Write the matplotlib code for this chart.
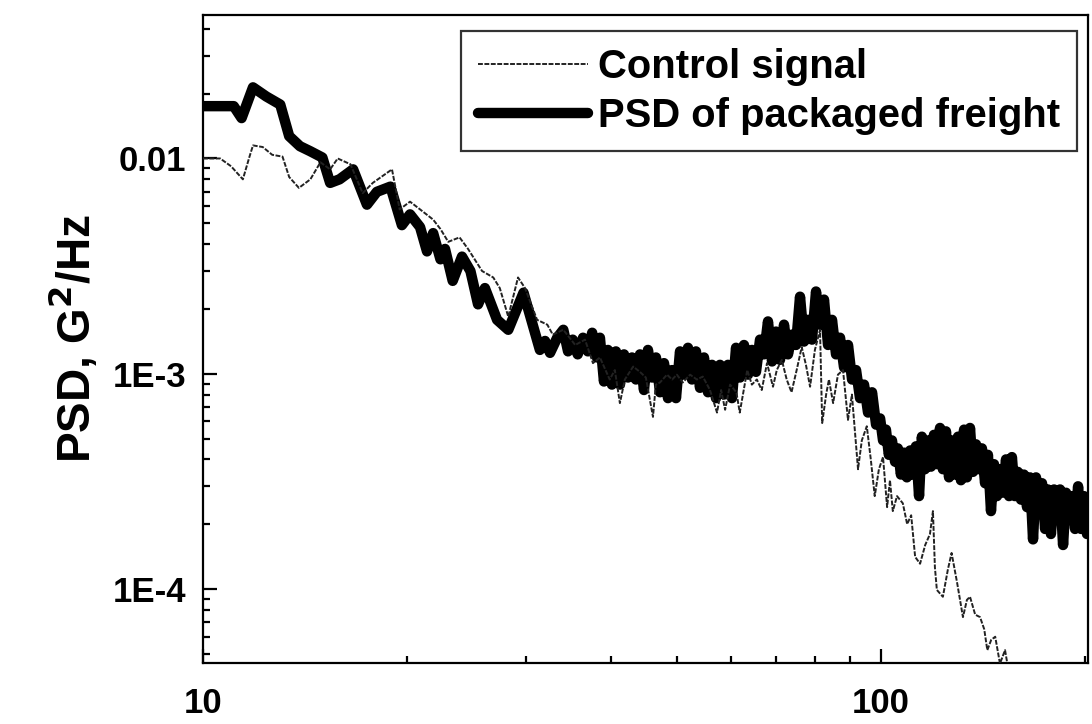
import matplotlib
matplotlib.use("Agg")
import matplotlib.pyplot as plt
from matplotlib.ticker import LogLocator, NullFormatter, FixedLocator

plt.rcParams['font.family'] = ['Liberation Sans', 'DejaVu Sans']
plt.rcParams['font.weight'] = 'bold'

# ---- data ----
freight_freq = [10.0, 11.1, 11.4, 11.85, 12.4, 13.0, 13.4, 13.9, 14.4, 15.0,
                15.4, 15.9, 16.65, 17.45, 18.05, 18.9, 19.65, 20.2, 20.9, 21.4,
                21.85, 22.4, 22.75, 23.35, 24.1, 24.8, 25.45, 26.05, 27.15, 28.2,
                29.7, 31.4, 31.95, 32.5, 33.3, 34.0, 34.55, 35.1, 35.7, 36.35,
                36.95, 37.5, 38.1,
                38.5, 39.03, 39.56, 40.10, 40.65, 41.21, 41.78, 42.35, 42.93, 43.51,
                44.11, 44.71, 45.32, 45.94, 46.57, 47.21, 47.86, 48.51, 49.18, 49.85,
                50.53, 51.22, 51.92, 52.63, 53.35, 54.08, 54.82, 55.57, 56.33, 57.10,
                57.88, 58.67, 59.48, 60.29, 61.12, 61.95, 62.80, 63.66, 64.53, 65.41,
                66.31, 67.21, 68.13, 69.07, 70.01, 70.97, 71.94, 72.92, 73.92, 74.93,
                75.96, 77.00, 78.05, 79.12, 80.20, 81.30, 82.41, 83.54, 84.68, 85.84,
                87.02, 88.21, 89.41, 90.64, 91.88, 93.13, 94.41, 95.70, 97.01, 98.34,
                99.7, 100.7, 101.7, 102.7, 103.8, 104.9, 105.9, 107.0, 108.1, 109.2,
                110.4, 111.5, 112.6, 113.8, 114.9, 116.1, 117.3, 118.5, 119.7, 120.9,
                122.2, 123.4, 124.7, 126.0, 127.3, 128.6, 129.9, 131.2, 132.6, 133.9,
                135.3, 136.7, 138.1, 139.5, 140.9, 142.4, 143.8, 145.3, 146.8, 148.3,
                149.8, 151.3, 152.9, 154.5, 156.0, 157.6, 159.2, 160.9, 162.5, 164.2,
                165.9, 167.6, 169.3, 171.0, 172.8, 174.6, 176.3, 178.1, 180.0, 181.8,
                183.7, 185.6, 187.5, 189.4, 191.3, 193.3, 195.3, 197.3, 199.3, 201.3,
                202.0]
freight_psd = [0.0175, 0.0175, 0.0154, 0.0214, 0.0194, 0.0178, 0.0127, 0.0114, 0.0108, 0.0101,
               0.0077, 0.0080, 0.0089, 0.0061, 0.0070, 0.0074, 0.0049, 0.0055, 0.0048, 0.0037,
               0.0045, 0.0034, 0.0038, 0.0027, 0.0035, 0.0030, 0.0021, 0.0025, 0.00178, 0.0016,
               0.00238, 0.00129, 0.00142, 0.00125, 0.00147, 0.0016, 0.00127, 0.00144, 0.00123, 0.00147,
               0.00127, 0.00155, 0.00119,
               0.00147, 0.00092, 0.00129, 0.00089, 0.00127, 0.00089, 0.00123, 0.00096, 0.00119, 0.00094,
               0.00123, 0.00084, 0.00129, 0.00096, 0.00119, 0.00082, 0.00112, 0.00077, 0.00104, 0.00077,
               0.00127, 0.00099, 0.00132, 0.00094, 0.00127, 0.00086, 0.00119, 0.00082, 0.00110, 0.00077,
               0.00110, 0.00080, 0.00110, 0.00077, 0.00132, 0.00096, 0.00136, 0.00099, 0.00129, 0.00102,
               0.00144, 0.00123, 0.00175, 0.00114, 0.00157, 0.00116, 0.00169, 0.00123, 0.00152, 0.00136,
               0.00228, 0.00141, 0.00178, 0.00144, 0.00241, 0.00169, 0.00221, 0.00136, 0.00178, 0.00123,
               0.00147, 0.00107, 0.00136, 0.00094, 0.00104, 0.00077, 0.00089, 0.00066, 0.00082, 0.00058,
               0.00062, 0.00049, 0.00055, 0.00042, 0.00049, 0.00039, 0.00045, 0.00034, 0.00043, 0.00033,
               0.00044, 0.00034, 0.00046, 0.00027, 0.00051, 0.00036, 0.00049, 0.00037, 0.00052, 0.00038,
               0.00056, 0.00036, 0.00054, 0.00033, 0.00049, 0.00034, 0.00051, 0.00032, 0.00055, 0.00033,
               0.00056, 0.00035, 0.00047, 0.00036, 0.00045, 0.00031, 0.00042, 0.00023, 0.00038, 0.00027,
               0.00036, 0.00028, 0.00040, 0.00027, 0.00041, 0.00027, 0.00035, 0.00026, 0.00034, 0.00024,
               0.00033, 0.00017, 0.00033, 0.00023, 0.00031, 0.00019, 0.00029, 0.00018, 0.00029, 0.00021,
               0.00029, 0.00016, 0.00028, 0.00021, 0.00027, 0.00019, 0.00030, 0.00019, 0.00027, 0.00018,
               0.00026]

control_freq = [10.0, 10.6, 11.0, 11.45, 11.7, 11.85, 12.25, 12.65, 13.1, 13.4,
                13.85, 14.4, 14.9, 15.4, 15.8, 16.5, 17.2, 17.8, 19.0, 19.5,
                20.2, 20.9, 21.85, 22.4, 23.0, 23.9, 24.6, 25.8, 26.8, 27.4,
                28.2, 29.15, 29.85, 31.1, 32.2, 32.8, 34.0, 35.4, 36.6, 37.6,
                38.5, 39.8, 40.5, 41.2, 41.9, 43.1, 44.1, 45.0, 46.1, 46.55,
                47.2, 48.35, 49.2, 50.0, 51.0, 52.3, 53.5, 54.6, 55.95, 57.3,
                58.1, 58.9, 59.9, 61.2, 61.9, 63.5, 64.5, 65.6, 66.7, 67.9,
                69.3, 70.2, 71.4, 72.6, 73.8, 75.1, 76.4, 77.5, 78.6, 79.9,
                81.3, 81.9, 83.0, 83.8, 85.0, 86.4, 87.9, 89.4, 90.6, 92.5,
                93.7, 95.3, 96.6, 97.9, 99.3, 100.7, 102.1, 103.1, 104.1, 105.6,
                107.7, 109.3, 110.8, 112.3, 114.2, 116.2, 118.1, 119.3, 120.1, 120.9,
                123.4, 125.5, 127.1, 129.5, 132.1, 133.9, 135.3, 137.7, 140.0, 142.0,
                143.5, 145.4, 147.4, 149.8, 152.4, 155.0]
control_psd = [0.0100, 0.0100, 0.0092, 0.0080, 0.0101, 0.0115, 0.0113, 0.0104, 0.0102, 0.0082,
               0.0073, 0.0080, 0.0096, 0.0089, 0.0100, 0.0094, 0.0069, 0.0077, 0.0089, 0.0058,
               0.0063, 0.0058, 0.0052, 0.0047, 0.0041, 0.0043, 0.0038, 0.0030, 0.0028, 0.0025,
               0.00184, 0.0028, 0.0025, 0.00178, 0.00169, 0.00152, 0.0016, 0.00136, 0.00144, 0.00112,
               0.00119, 0.00094, 0.00104, 0.00073, 0.00094, 0.00108, 0.00102, 0.00096, 0.00063, 0.00089,
               0.00091, 0.00099, 0.00094, 0.00099, 0.00091, 0.00099, 0.00094, 0.00097, 0.00084, 0.00066,
               0.00084, 0.00068, 0.00089, 0.00082, 0.00066, 0.00104, 0.00089, 0.00094, 0.00084, 0.00112,
               0.00087, 0.00104, 0.00116, 0.00094, 0.00082, 0.00104, 0.00133, 0.00110, 0.00087, 0.00129,
               0.0016, 0.00059, 0.00080, 0.00094, 0.00073, 0.00099, 0.00104, 0.00061, 0.00080, 0.00036,
               0.00049, 0.00057, 0.00040, 0.00027, 0.00036, 0.00041, 0.00024, 0.00032, 0.00023, 0.00027,
               0.00025, 0.00020, 0.00022, 0.000141, 0.000131, 0.00016, 0.00018, 0.00023, 0.000126, 0.000099,
               0.000092, 0.000123, 0.000147, 0.000107, 0.000074, 0.000089, 0.000092, 0.000076, 0.000074, 0.000065,
               0.000052, 0.000058, 0.000060, 0.000045, 0.000052, 0.000038]

series_labels = ["Control signal", "PSD of packaged freight"]
x_tick_values = [10, 100]
x_tick_labels = ["10", "100"]
y_tick_values = [1e-4, 1e-3, 1e-2]
y_tick_labels = ["1E-4", "1E-3", "0.01"]

# ---- figure ----
fig = plt.figure(figsize=(10.92, 7.24), dpi=100)
ax = fig.add_axes([203/1092, 1-663/724, (1088-203)/1092, (663-15)/724])

ax.plot(control_freq, control_psd, color='#222222', lw=1.4,
        linestyle=(0, (2.5, 0.8)), label=series_labels[0], zorder=3)
ax.plot(freight_freq, freight_psd, color='black', lw=7.5,
        solid_capstyle='round', solid_joinstyle='round',
        label=series_labels[1], zorder=2)

ax.set_xscale('log')
ax.set_yscale('log')
ax.set_xlim(10, 202)
ax.set_ylim(4.53e-5, 0.0464)

ax.xaxis.set_major_locator(FixedLocator(x_tick_values))
ax.set_xticklabels(x_tick_labels)
ax.xaxis.set_minor_locator(LogLocator(base=10, subs=range(2, 10)))
ax.xaxis.set_minor_formatter(NullFormatter())
ax.yaxis.set_major_locator(FixedLocator(y_tick_values))
ax.set_yticklabels(y_tick_labels)
ax.yaxis.set_minor_locator(LogLocator(base=10, subs=range(2, 10)))
ax.yaxis.set_minor_formatter(NullFormatter())

ax.tick_params(which='both', direction='in', top=False, right=False, width=1.6)
ax.tick_params(which='major', length=10, labelsize=25)
ax.tick_params(axis='y', which='major', pad=12)
ax.tick_params(axis='x', which='major', pad=17)
ax.tick_params(which='minor', length=5)
for lab in ax.get_xticklabels() + ax.get_yticklabels():
    lab.set_fontweight('bold')
for s in ax.spines.values():
    s.set_linewidth(1.6)

ax.set_ylabel(r'PSD, G$^\mathbf{2}$/Hz', fontsize=33, fontweight='bold', labelpad=9)

leg = ax.legend(loc='upper right', bbox_to_anchor=((1077-203)/885, (663-31)/648),
                borderaxespad=0, fontsize=28.8, frameon=True, fancybox=False,
                edgecolor='black', handlelength=2.75, handletextpad=0.25,
                borderpad=0.42, labelspacing=0.27)
leg.get_frame().set_linewidth(1.6)
for t in leg.get_texts():
    t.set_fontweight('bold')

fig.savefig('out.png', dpi=100, facecolor='white')
